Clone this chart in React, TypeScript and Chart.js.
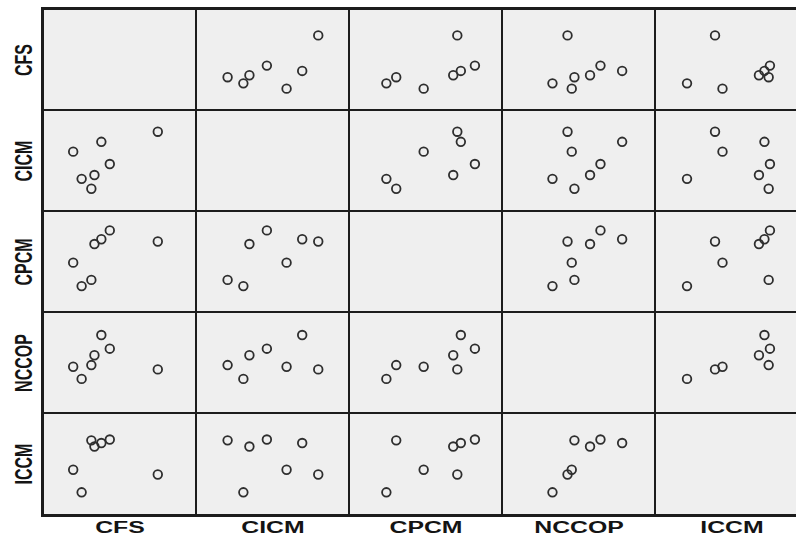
import React, { useEffect, useRef } from "react";
import { Chart, registerables } from "chart.js";

Chart.register(...registerables);

// Variable names (row labels top→bottom, column labels left→right)
const variableNames = ["CFS", "CICM", "CPCM", "NCCOP", "ICCM"];

const cfsValues = [77.2, 43.1, 37.1, 32.2, 30.0, 23.1, 17.1];
const cicmValues = [82.5, 46.0, 71.1, 33.6, 18.1, 29.3, 60.0];
const cpcmValues = [72.6, 85.1, 75.1, 69.7, 29.2, 22.2, 48.7];
const nccopValues = [42.2, 65.6, 81.0, 58.2, 47.1, 31.5, 45.2];
const iccmValues = [38.3, 77.3, 73.4, 69.5, 76.4, 18.4, 43.6];

const seriesByVariable = [cfsValues, cicmValues, cpcmValues, nccopValues, iccmValues];

// Axis ranges (same for every variable)
const axisMinX = 0.7;
const axisMaxX = 99.3;
const axisMinY = 1;
const axisMaxY = 99;

// Grid line centres of the matrix (page pixels)
const LINE_X = [43, 196, 349, 502, 655, 808];
const LINE_Y = [9, 110, 211, 312, 413, 515];

const FONT = '"Liberation Sans", Arial, Helvetica, sans-serif';

const cellBackground = {
  id: "cellBackground",
  beforeDraw(chart: any) {
    const { ctx, width, height } = chart;
    ctx.save();
    ctx.fillStyle = "#efefef";
    ctx.fillRect(0, 0, width, height);
    ctx.restore();
  },
};

function Cell({ row, col }: { row: number; col: number }) {
  const ref = useRef<HTMLCanvasElement>(null);
  const left = LINE_X[col] + 1;
  const top = LINE_Y[row] + 1;
  const w = LINE_X[col + 1] - LINE_X[col] - 2;
  const h = LINE_Y[row + 1] - LINE_Y[row] - 2;

  useEffect(() => {
    if (!ref.current) return;
    const xs = seriesByVariable[col];
    const ys = seriesByVariable[row];
    const points = row === col ? [] : xs.map((x, i) => ({ x, y: ys[i] }));
    const chart = new Chart(ref.current, {
      type: "scatter",
      data: {
        datasets: [
          {
            data: points,
            pointRadius: 4.3,
            pointHoverRadius: 4.3,
            borderWidth: 1.8,
            borderColor: "#2e2e2e",
            backgroundColor: "rgba(0,0,0,0)",
          },
        ],
      },
      options: {
        responsive: false,
        maintainAspectRatio: false,
        animation: false,
        devicePixelRatio: 1,
        layout: { padding: 0 },
        events: [],
        scales: {
          x: { type: "linear", min: axisMinX, max: axisMaxX, display: false },
          y: { type: "linear", min: axisMinY, max: axisMaxY, display: false },
        },
        plugins: {
          legend: { display: false },
          tooltip: { enabled: false },
          title: { display: false },
        },
      },
      plugins: [cellBackground],
    } as any);
    return () => chart.destroy();
  }, [row, col]);

  return (
    <canvas
      ref={ref}
      width={w}
      height={h}
      style={{ position: "absolute", left, top, width: w, height: h, display: "block" }}
    />
  );
}

export default function App() {
  const cells: React.ReactNode[] = [];
  for (let r = 0; r < 5; r++) {
    for (let c = 0; c < 5; c++) {
      cells.push(<Cell key={`${r}-${c}`} row={r} col={c} />);
    }
  }
  return (
    <div
      style={{
        position: "fixed",
        left: 0,
        top: 0,
        width: 796,
        height: 537,
        overflow: "hidden",
        background: "#ffffff",
      }}
    >
      <div
        style={{
          position: "absolute",
          left: LINE_X[0] - 2,
          top: LINE_Y[0] - 2,
          width: LINE_X[5] - LINE_X[0] + 4,
          height: LINE_Y[5] - LINE_Y[0] + 4,
          background: "#1c1c1c",
        }}
      />
      {cells}
      {variableNames.map((name, r) => (
        <div
          key={`row-${name}`}
          style={{
            position: "absolute",
            left: 24,
            top: (LINE_Y[r] + LINE_Y[r + 1]) / 2,
            transform: "translate(-50%, -50%) rotate(-90deg) scaleY(1.55)",
            fontFamily: FONT,
            fontWeight: "bold",
            fontSize: 16,
            lineHeight: "16px",
            color: "#141414",
            whiteSpace: "nowrap",
          }}
        >
          {name}
        </div>
      ))}
      {variableNames.map((name, c) => (
        <div
          key={`col-${name}`}
          style={{
            position: "absolute",
            left: (LINE_X[c] + LINE_X[c + 1]) / 2 - 100,
            width: 200,
            top: 520,
            textAlign: "center",
            transform: "scaleX(1.55)",
            fontFamily: FONT,
            fontWeight: "bold",
            fontSize: 16,
            lineHeight: "16px",
            color: "#141414",
            whiteSpace: "nowrap",
          }}
        >
          {name}
        </div>
      ))}
    </div>
  );
}
